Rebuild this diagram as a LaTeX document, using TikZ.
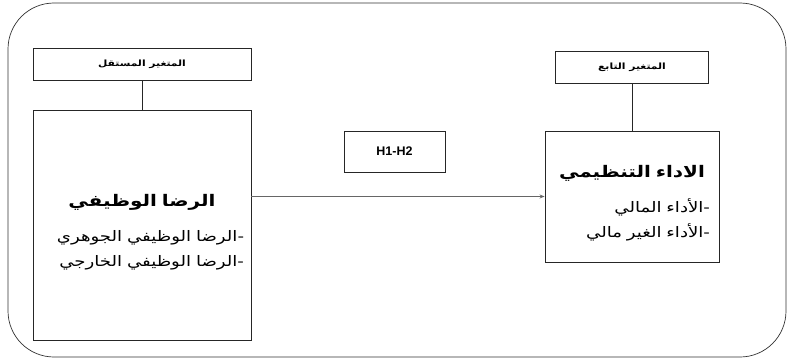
\documentclass[tikz,border=0pt]{standalone}
\usepackage{fontspec}
\setmainfont{Liberation Sans}
\newfontfamily\arabicfont[Script=Arabic, FakeStretch=1.25]{DejaVu Sans}
\TeXXeTstate=1
\usetikzlibrary{arrows.meta, positioning}

\newcommand{\artxt}[1]{{\arabicfont\beginR #1\endR}}

\begin{document}
\begin{tikzpicture}[x=1pt, y=-1pt,
      frame/.style={draw=black!80, rounded corners=46pt, line width=0.7pt},
      headbox/.style={draw=black!85, line width=0.9pt,
                   minimum height=32pt, inner sep=0pt,
                   font=\fontsize{8.6}{10}\selectfont\bfseries, align=center},
      varbox/.style={draw=black!85, line width=0.9pt, inner sep=0pt,
                   font=\fontsize{14.5}{25}\selectfont, align=right},
      hypbox/.style={draw=black!85, line width=0.9pt,
                   minimum width=101pt, minimum height=41pt,
                   font=\fontsize{12.5}{14}\selectfont\bfseries},
      link/.style={draw=black!85, line width=0.8pt},
      arr/.style={-{Stealth[length=5pt, width=4pt]}, line width=1pt, black!60}
    ]
      \useasboundingbox (0,0) rectangle (790,361);
      \draw[frame] (8,3) rectangle (786,357);

      \node[headbox, minimum width=218pt] (indhead) at (142,64) {\artxt{المتغير المستقل}};
      \node[varbox, minimum width=218pt, minimum height=230pt, text width=204pt] (indvar) at (142,225) {
        \vspace*{1pt}
        \makebox[\linewidth]{\fontsize{16}{20}\selectfont\bfseries\artxt{الرضا الوظيفي}}\\[10pt]
        \artxt{-الرضا الوظيفي الجوهري}\\
        \artxt{-الرضا الوظيفي الخارجي}
      };
      \draw[link] (indhead) -- (indvar);

      \node[hypbox] (hyp) at (394.5,151.5) {H1-H2};

      \node[headbox, minimum width=153pt] (dephead) at (632,67) {\artxt{المتغير التابع}};
      \node[varbox, minimum width=174pt, minimum height=131pt, text width=156pt] (depvar) at (632,196.5) {
        \vspace*{1pt}
        \makebox[\linewidth]{\fontsize{16}{20}\selectfont\bfseries\artxt{الاداء التنظيمي}}\\[10pt]
        \artxt{-الأداء المالي}\\
        \artxt{-الأداء الغير مالي}
      };
      \draw[link] (dephead) -- (depvar);

      \draw[arr] (indvar.east |- depvar.west) -- (depvar.west);
    \end{tikzpicture}
\end{document}
